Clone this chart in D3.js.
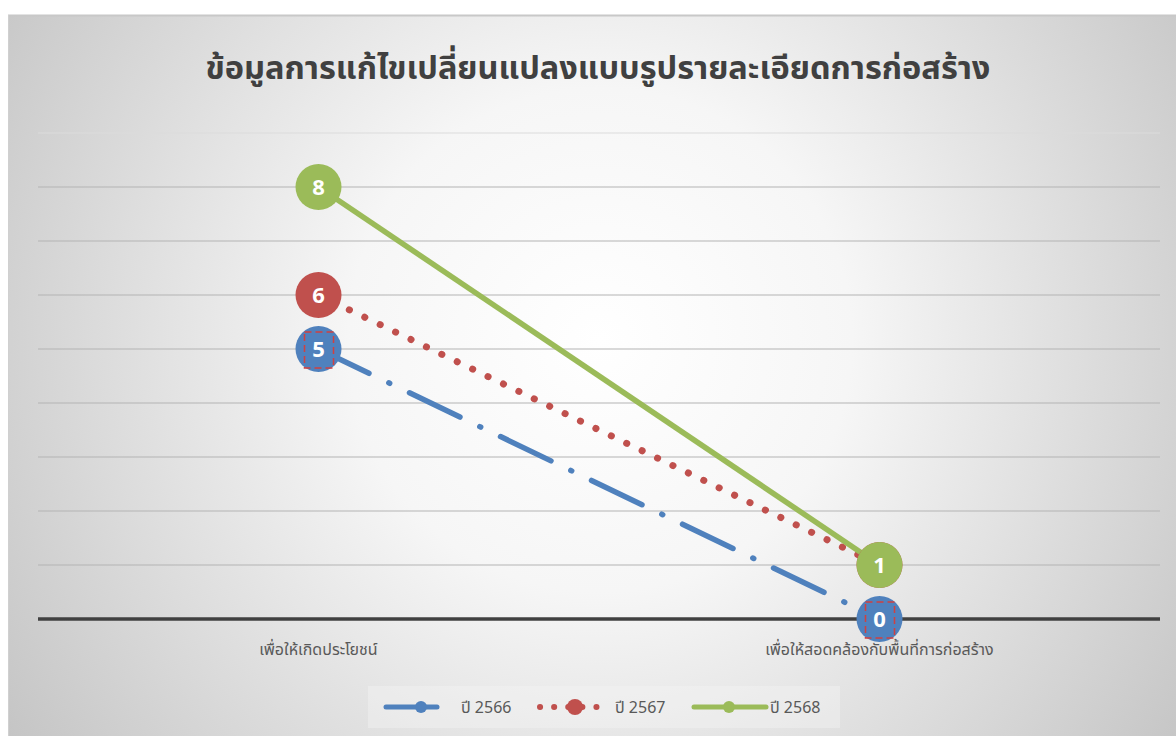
<!DOCTYPE html>
<html>
<head>
<meta charset="utf-8">
<script src="https://cdn.jsdelivr.net/npm/d3@7"></script>
<style>
  body { margin: 0; background: #fff; }
  text { font-family: "Noto Sans Thai", Tahoma, "Noto Sans", "DejaVu Sans", sans-serif; }
</style>
</head>
<body>
<div id="chart"></div>
<script>
var width = 1176,
    height = 736;

const categories = ['เพื่อให้เกิดประโยชน์', 'เพื่อให้สอดคล้องกับพื้นที่การก่อสร้าง'];
const seriesNames = ['ปี 2566', 'ปี 2567', 'ปี 2568'];
const values2566 = [5, 0];
const values2567 = [6, 1];
const values2568 = [8, 1];
const yTicks = [0, 1, 2, 3, 4, 5, 6, 7, 8, 9];

const series = [
    { name: seriesNames[0], values: values2566, color: '#4f81bd', dash: '56,22,1,22', cap: 'round' },
    { name: seriesNames[1], values: values2567, color: '#c0504d', dash: '0.1,17', cap: 'round' },
    { name: seriesNames[2], values: values2568, color: '#9bbb59', dash: null, cap: 'butt' }
];

const plot = { left: 38, right: 1160, top: 133, bottom: 619 };

var svg = d3.select('#chart').append('svg')
    .attr('width', width)
    .attr('height', height);

// background
var defs = svg.append('defs');
var grad = defs.append('radialGradient')
    .attr('id', 'bg')
    .attr('gradientUnits', 'userSpaceOnUse')
    .attr('cx', 600).attr('cy', 340).attr('r', 720);
grad.append('stop').attr('offset', '0%').attr('stop-color', '#ffffff');
grad.append('stop').attr('offset', '35%').attr('stop-color', '#f6f6f6');
grad.append('stop').attr('offset', '100%').attr('stop-color', '#c4c4c4');

svg.append('rect')
    .attr('x', 8).attr('y', 15)
    .attr('width', width - 8).attr('height', height - 15)
    .attr('fill', 'url(#bg)');
svg.append('line')
    .attr('x1', 8).attr('x2', width).attr('y1', 15.5).attr('y2', 15.5)
    .attr('stroke', '#c8c8c8').attr('stroke-width', 2);
svg.append('line')
    .attr('x1', 8.5).attr('x2', 8.5).attr('y1', 15).attr('y2', height)
    .attr('stroke', '#d0d0d0').attr('stroke-width', 1);

var xScale = d3.scalePoint()
    .domain(categories)
    .range([plot.left, plot.right])
    .padding(0.5);

var yScale = d3.scaleLinear()
    .domain([0, 9])
    .range([plot.bottom, plot.top]);

// gridlines
svg.append('g')
    .selectAll('line')
    .data(yTicks.filter(d => d > 0))
    .enter().append('line')
    .attr('x1', plot.left).attr('x2', plot.right)
    .attr('y1', d => yScale(d)).attr('y2', d => yScale(d))
    .attr('stroke', d => d === 9 ? '#dcdcdc' : '#b4b4b4')
    .attr('stroke-width', 1.2);

// x axis
svg.append('line')
    .attr('x1', plot.left).attr('x2', plot.right)
    .attr('y1', yScale(0)).attr('y2', yScale(0))
    .attr('stroke', '#404040')
    .attr('stroke-width', 3.5);

svg.append('g')
    .selectAll('text')
    .data(categories)
    .enter().append('text')
    .attr('x', d => xScale(d))
    .attr('y', 655)
    .attr('text-anchor', 'middle')
    .attr('fill', '#595959')
    .style('font-size', '16px')
    .text(d => d);

// title
svg.append('text')
    .attr('x', 598)
    .attr('y', 79)
    .attr('text-anchor', 'middle')
    .attr('fill', '#404040')
    .style('font-size', '32.5px')
    .style('font-weight', 'bold')
    .text('ข้อมูลการแก้ไขเปลี่ยนแปลงแบบรูปรายละเอียดการก่อสร้าง');

const line = d3.line()
    .x(d => xScale(d.cat))
    .y(d => yScale(d.value));

function pointsOf(s) {
    return s.values.map((v, i) => ({ cat: categories[i], value: v, color: s.color }));
}

// lines
series.forEach(s => {
    svg.append('path')
        .datum(pointsOf(s))
        .attr('d', line)
        .attr('fill', 'none')
        .attr('stroke', s.color)
        .attr('stroke-width', s.dash === '0.1,17' ? 7 : 5.5)
        .attr('stroke-linecap', s.cap)
        .attr('stroke-dasharray', s.dash);
});

// markers and labels
series.forEach((s, si) => {
    var g = svg.append('g')
        .selectAll('.pt')
        .data(pointsOf(s))
        .enter().append('g')
        .attr('class', 'pt')
        .attr('transform', d => `translate(${xScale(d.cat)},${yScale(d.value)})`);

    g.append('circle')
        .attr('r', 23)
        .attr('fill', s.color);

    g.append('text')
        .attr('text-anchor', 'middle')
        .attr('dy', 8)
        .attr('fill', 'white')
        .style('font-size', '22px')
        .style('font-weight', 'bold')
        .text(d => d.value);

    // selection box left on the blue labels
    if (si === 0) {
        g.append('rect')
            .attr('x', -14).attr('y', -17)
            .attr('width', 29).attr('height', 36)
            .attr('fill', 'none')
            .attr('stroke', '#d04040')
            .attr('stroke-width', 1.5)
            .attr('stroke-dasharray', '7,4');
    }
});

// legend
svg.append('rect')
    .attr('x', 368).attr('y', 686)
    .attr('width', 472).attr('height', 42)
    .attr('fill', '#f4f4f4')
    .attr('opacity', 0.4);

const legendX = [[386, 437, 421, 461], [540, 598, 575, 615], [694, 766, 729, 770]];
var legend = svg.selectAll('.legend')
    .data(series)
    .enter().append('g')
    .attr('class', 'legend');

legend.append('line')
    .attr('x1', (d, i) => legendX[i][0])
    .attr('x2', (d, i) => legendX[i][1])
    .attr('y1', 707).attr('y2', 707)
    .attr('stroke', d => d.color)
    .attr('stroke-width', (d, i) => i === 1 ? 6 : 5)
    .attr('stroke-linecap', 'round')
    .attr('stroke-dasharray', (d, i) => i === 1 ? '0.1,14' : null);

legend.append('circle')
    .attr('cx', (d, i) => legendX[i][2])
    .attr('cy', 707)
    .attr('r', (d, i) => i === 1 ? 8 : 6)
    .attr('fill', d => d.color);

legend.append('text')
    .attr('x', (d, i) => legendX[i][3])
    .attr('y', 713)
    .attr('fill', '#595959')
    .style('font-size', '16px')
    .text(d => d.name);
</script>
</body>
</html>
